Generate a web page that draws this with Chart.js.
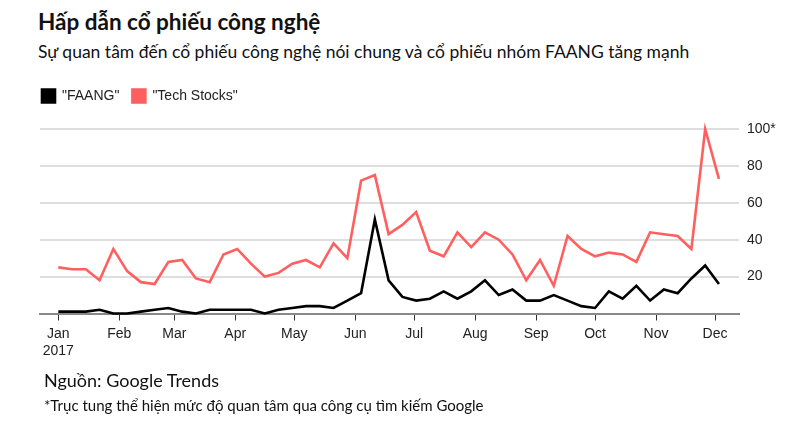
<!DOCTYPE html>
<html>
<head>
<meta charset="utf-8">
<script src="https://cdn.jsdelivr.net/npm/chart.js@4.4.1/dist/chart.umd.min.js"></script>
<style>
  body { margin: 0; background: #fff; }
  #wrap { position: relative; width: 801px; height: 425px; overflow: hidden; }
  .txt { position: absolute; left: 38px; font-family: Lato, "Open Sans", sans-serif; color: #111; white-space: nowrap; }
  #title { top: 9px; font-size: 22.5px; line-height: 26px; font-weight: bold; }
  #subtitle { top: 42px; font-size: 17.5px; line-height: 20px; }
  #source { top: 369px; left: 44px; font-size: 18px; line-height: 22px; }
  #note { top: 396px; left: 44px; font-size: 15px; line-height: 18px; }
  #box { position: absolute; left: 0; top: 70px; width: 801px; height: 300px; }
</style>
</head>
<body>
<div id="wrap">
  <div class="txt" id="title">Hấp dẫn cổ phiếu công nghệ</div>
  <div class="txt" id="subtitle">Sự quan tâm đến cổ phiếu công nghệ nói chung và cổ phiếu nhóm FAANG tăng mạnh</div>
  <div id="box"><canvas id="chartTrends"></canvas></div>
  <div class="txt" id="source">Nguồn: Google Trends</div>
  <div class="txt" id="note">*Trục tung thể hiện mức độ quan tâm qua công cụ tìm kiếm Google</div>
</div>
<script>
// weekly Google Trends values, one per Sunday from 1 Jan 2017 to 3 Dec 2017
const faang = [1, 1, 1, 2, 0, 0, 1, 2, 3, 1, 0, 2, 2, 2, 2, 0, 2, 3, 4,
  4, 3, 7, 11, 51, 18, 9, 7, 8, 12, 8, 12, 18, 10, 13, 7, 7, 10,
  7, 4, 3, 12, 8, 15, 7, 13, 11, 19, 26, 16];
const techStocks = [25, 24, 24, 18, 35, 23, 17, 16, 28, 29, 19, 17, 32, 35, 27, 20, 22, 27, 29,
  25, 38, 30, 72, 75, 43, 48, 55, 34, 31, 44, 36, 44, 40, 32, 18, 29, 15,
  42, 35, 31, 33, 32, 28, 44, 43, 42, 35, 100, 73];
const weekDay = faang.map((_, i) => i * 7); // days since 1 Jan
const monthStart = [0, 31, 59, 90, 120, 151, 181, 212, 243, 273, 304, 334];
const monthLabels = ['Jan', 'Feb', 'Mar', 'Apr', 'May', 'Jun', 'Jul', 'Aug', 'Sep', 'Oct', 'Nov', 'Dec'];
const yTicks = [20, 40, 60, 80, 100];

const pts = arr => arr.map((v, i) => ({ x: weekDay[i], y: v }));

// push the plot down below the legend, and nudge the legend left
const legendGap = {
  id: 'legendGap',
  beforeInit(chart) {
    const fit = chart.legend.fit;
    chart.legend.fit = function () {
      fit.bind(chart.legend)();
      this.height = 53;
    };
  },
  afterLayout(chart) {
    chart.legend.left = 29;
  }
};

const ctx = document.getElementById('chartTrends').getContext('2d');
new Chart(ctx, {
  type: 'line',
  data: {
    datasets: [
      { label: '"FAANG"', data: pts(faang), borderColor: '#000', backgroundColor: '#000', borderWidth: 2.6, pointRadius: 0, tension: 0, clip: false },
      { label: '"Tech Stocks"', data: pts(techStocks), borderColor: '#ff5f5f', backgroundColor: '#ff5f5f', borderWidth: 2.6, pointRadius: 0, tension: 0, clip: false }
    ]
  },
  options: {
    responsive: true,
    maintainAspectRatio: false,
    animation: false,
    layout: { padding: { left: 40, top: 6, right: 0, bottom: 0 } },
    plugins: {
      legend: {
        position: 'top',
        align: 'start',
        labels: {
          boxWidth: 13, boxHeight: 13, padding: 13, color: '#222',
          font: { family: 'Liberation Sans, Arial, sans-serif', size: 14 }
        }
      },
      tooltip: { enabled: false }
    },
    scales: {
      x: {
        type: 'linear',
        min: -9.3,
        max: 346.2,
        afterBuildTicks: s => { s.ticks = monthStart.map(v => ({ value: v })); },
        afterFit: s => { s.height = 56.5; },
        ticks: {
          autoSkip: false, maxRotation: 0, padding: 5, color: '#222',
          font: { family: 'Liberation Sans, Arial, sans-serif', size: 14 },
          callback: v => {
            const i = monthStart.indexOf(v);
            return i === 0 ? [monthLabels[0], '2017'] : monthLabels[i];
          }
        },
        grid: { drawOnChartArea: false, drawTicks: true, tickLength: 7, color: '#333', lineWidth: 1 },
        border: { display: true, color: '#888', width: 2 }
      },
      y: {
        position: 'right',
        min: 0,
        max: 100,
        afterBuildTicks: s => { s.ticks = [0, 10, 20, 30, 40, 50, 60, 70, 80, 90, 100].map(v => ({ value: v })); },
        afterFit: s => { s.width = 62; },
        ticks: {
          padding: 8, color: '#222',
          font: { family: 'Liberation Sans, Arial, sans-serif', size: 14 },
          callback: v => yTicks.includes(v) ? (v === 100 ? '100*' : String(v)) : ''
        },
        grid: { drawTicks: false, color: '#dedede', lineWidth: 2 },
        border: { display: false }
      }
    }
  },
  plugins: [legendGap]
});
</script>
</body>
</html>
